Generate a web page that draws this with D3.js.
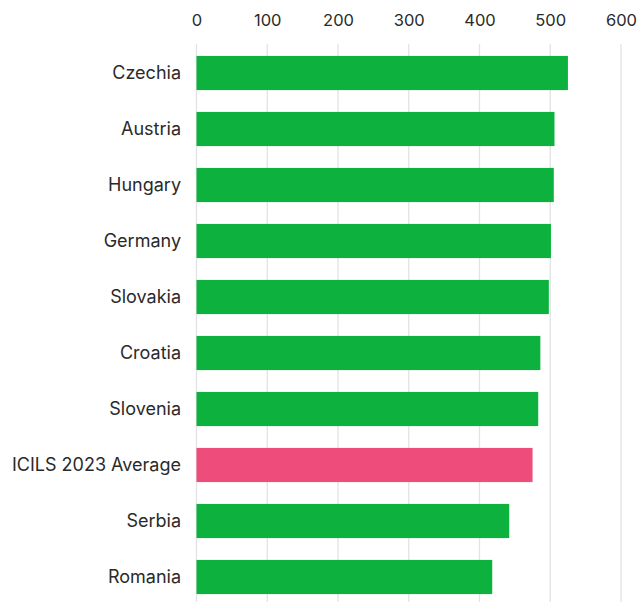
<!DOCTYPE html>
<html><head><meta charset="utf-8">
<script src="https://cdn.jsdelivr.net/npm/d3@7"></script>
<style>body{margin:0;background:#fff}svg{display:block}</style>
</head><body>
<svg id="c" width="640" height="602"></svg>
<script>
const categories = ["Czechia","Austria","Hungary","Germany","Slovakia","Croatia","Slovenia","ICILS 2023 Average","Serbia","Romania"];
const values = [525,506,505,501,498,486,483,475,442,418];
const highlight = ["ICILS 2023 Average"];
const ticks = [0,100,200,300,400,500,600];

const svg = d3.select("#c");
const x = d3.scaleLinear().domain([0,600]).range([196.5,621]);
const y = d3.scaleBand().domain(categories).range([45,605]).paddingInner(0.39).paddingOuter(0.195);

const font = "Inter, 'Noto Sans', sans-serif";

// gridlines
svg.append("g").selectAll("line").data(ticks).join("line")
  .attr("x1",d=>x(d)).attr("x2",d=>x(d)).attr("y1",44).attr("y2",602)
  .attr("stroke","#e3e3e3").attr("stroke-width",1.3);

// top axis labels
const ax = svg.append("g").attr("transform","translate(0,20)")
  .call(d3.axisTop(x).tickValues(ticks).tickSize(0).tickPadding(0));
ax.select(".domain").remove();
ax.selectAll("text").attr("font-family",font).attr("font-size",16.5).attr("fill","#2a2a2a")
  .attr("dy","0.35em");

// bars
svg.append("g").selectAll("rect").data(categories).join("rect")
  .attr("x",x(0)).attr("y",d=>y(d))
  .attr("width",(d,i)=>x(values[i])-x(0)).attr("height",y.bandwidth())
  .attr("fill",d=>highlight.includes(d)?"#ee4d7b":"#0db23e");

// category labels
const ay = svg.append("g").attr("transform","translate(181,0)")
  .call(d3.axisLeft(y).tickSize(0).tickPadding(0));
ay.select(".domain").remove();
ay.selectAll("text").attr("font-family",font).attr("font-size",18).attr("fill","#2a2a2a");
</script>
</body></html>
